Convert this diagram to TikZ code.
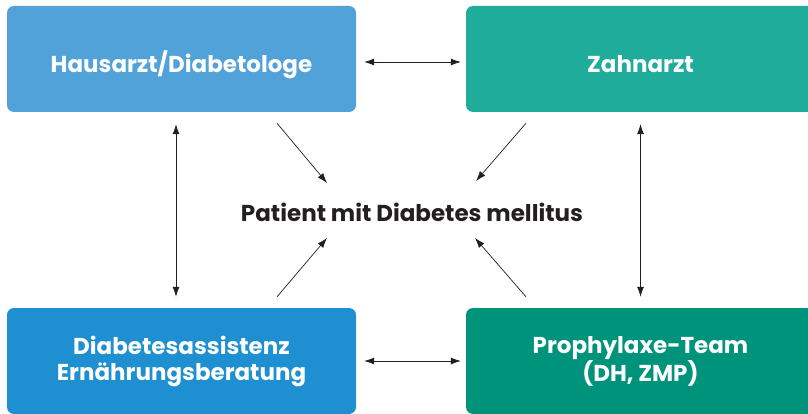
\documentclass[tikz,border=0pt]{standalone}
\usepackage{fontspec}
\setmainfont{Poppins}
\usetikzlibrary{arrows.meta}
\definecolor{hausblau}{HTML}{52A2DA}
\definecolor{zahngruen}{HTML}{20AC9A}
\definecolor{assiblau}{HTML}{1E8FD0}
\definecolor{prophgruen}{HTML}{00937B}
\definecolor{schrift}{HTML}{231F20}

\begin{document}
\begin{tikzpicture}[x=1pt,y=-1pt,
	kasten/.style={rectangle,rounded corners=7pt,minimum width=349pt,minimum height=106pt,
		inner sep=0pt,align=center,text=white,font=\bfseries\fontsize{23}{26}\selectfont},
	oben/.style={text height=27pt,text depth=0pt},
	pfeil/.style={-{Latex[length=10pt,width=7pt]},line width=0.7pt,schrift},
	doppel/.style={{Latex[length=10pt,width=7pt]}-{Latex[length=10pt,width=7pt]},line width=0.7pt,schrift}]
%
	\useasboundingbox (0,0) rectangle (808,414);
%
	\node[kasten,oben,fill=hausblau] (haus) at (181.5,59) {Hausarzt/Diabetologe};
	\node[kasten,oben,fill=zahngruen] (zahn) at (640.5,59) {Zahnarzt};
	\node[kasten,fill=assiblau] (assi) at (181.5,361) {Diabetesassistenz\\Ernährungsberatung};
	\node[kasten,fill=prophgruen] (proph) at (640.5,361) {Prophylaxe-Team\\(DH, ZMP)};
%
	\node[text=schrift,font=\bfseries\fontsize{23}{26}\selectfont] (pat) at (412,212) {Patient mit Diabetes mellitus};
%
	\coordinate (lo) at (327,183);
	\coordinate (ro) at (476,181);
	\coordinate (lu) at (327,238);
	\coordinate (ru) at (475,238);
%
	\draw[doppel,shorten <=8pt,shorten >=5pt] ([yshift=-3pt]haus.east) -- ([yshift=-3pt]zahn.west);
	\draw[doppel,shorten <=8pt,shorten >=5pt] (assi.east) -- (proph.west);
	\draw[doppel,shorten <=12pt,shorten >=11pt] ([xshift=-5.5pt]haus.south) -- ([xshift=-5.5pt]assi.north);
	\draw[doppel,shorten <=12pt,shorten >=11pt] (zahn.south) -- (proph.north);
%
	\draw[pfeil] ([xshift=95.5pt,yshift=-11pt]haus.south) -- (lo);
	\draw[pfeil] ([xshift=-114.5pt,yshift=-11pt]zahn.south) -- (ro);
	\draw[pfeil] ([xshift=95.5pt,yshift=11pt]assi.north) -- (lu);
	\draw[pfeil] ([xshift=-114.5pt,yshift=11pt]proph.north) -- (ru);
\end{tikzpicture}
\end{document}
